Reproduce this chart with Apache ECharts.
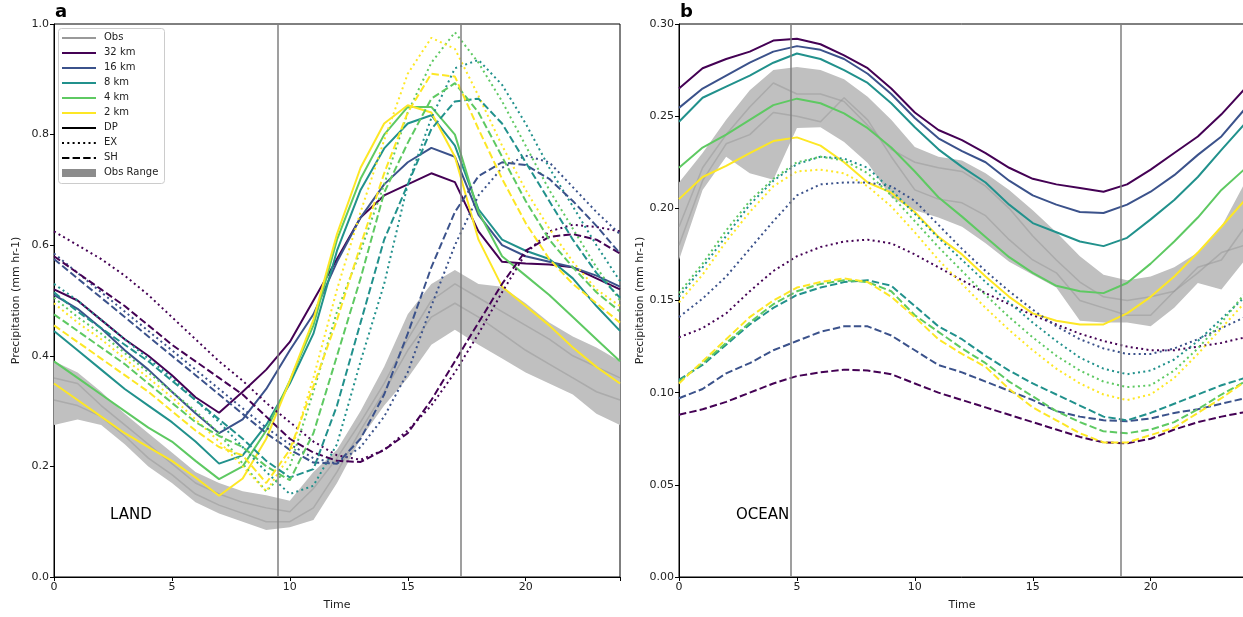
<!DOCTYPE html>
<html>
<head>
<meta charset="utf-8">
<script src="https://cdn.jsdelivr.net/npm/echarts/dist/echarts.min.js"></script>
<style>
  html, body { margin: 0; padding: 0; background: #fff; }
  #chart { width: 1243px; height: 617px; }
</style>
</head>
<body>
<div id="chart"></div>
<script>
// Local time of day (hours)
const hours = [0,1,2,3,4,5,6,7,8,9,10,11,12,13,14,15,16,17,18,19,20,21,22,23,24];
const xTicks = [0, 5, 10, 15, 20];

// ---- LAND: mean diurnal precipitation (mm hr-1) ----
const landDP32 = [.52,.50,.465,.43,.40,.365,.325,.297,.335,.375,.425,.50,.575,.65,.69,.71,.73,.714,.625,.57,.567,.565,.56,.54,.52];
const landDP16 = [.51,.485,.45,.41,.375,.335,.296,.26,.285,.34,.41,.475,.57,.65,.71,.75,.776,.76,.655,.60,.58,.57,.56,.545,.525];
const landDP8  = [.445,.41,.375,.34,.31,.28,.245,.205,.22,.275,.35,.44,.59,.70,.775,.82,.835,.78,.665,.61,.59,.575,.54,.49,.445];
const landDP4  = [.39,.36,.33,.30,.27,.245,.21,.177,.20,.265,.355,.455,.61,.72,.80,.85,.85,.80,.66,.58,.545,.51,.47,.43,.39];
const landDP2  = [.35,.32,.29,.26,.235,.21,.18,.147,.178,.25,.355,.465,.62,.74,.82,.853,.84,.76,.61,.525,.49,.455,.415,.38,.35];

const landEX32 = [.625,.60,.575,.545,.51,.47,.43,.39,.355,.315,.28,.245,.22,.212,.23,.265,.31,.37,.44,.515,.585,.625,.637,.633,.625];
const landEX16 = [.585,.55,.515,.48,.445,.41,.375,.34,.305,.27,.24,.215,.205,.235,.29,.37,.49,.60,.69,.74,.762,.75,.705,.66,.62];
const landEX8  = [.53,.50,.465,.43,.395,.36,.32,.28,.235,.19,.15,.165,.24,.39,.53,.71,.83,.92,.935,.89,.82,.74,.67,.60,.535];
const landEX4  = [.505,.47,.44,.405,.37,.335,.30,.26,.205,.155,.20,.335,.48,.59,.71,.84,.93,.985,.93,.86,.78,.70,.63,.56,.50];
const landEX2  = [.495,.46,.43,.395,.36,.325,.285,.245,.20,.155,.22,.36,.52,.66,.79,.91,.975,.955,.87,.78,.70,.63,.57,.52,.49];

const landSH32 = [.58,.55,.52,.49,.455,.42,.39,.36,.33,.29,.25,.225,.21,.208,.23,.26,.32,.39,.46,.53,.59,.615,.62,.61,.585];
const landSH16 = [.575,.54,.505,.47,.435,.40,.365,.33,.295,.26,.23,.207,.205,.25,.33,.44,.56,.66,.725,.75,.745,.72,.68,.635,.585];
const landSH8  = [.515,.48,.45,.42,.39,.355,.32,.285,.25,.21,.18,.195,.31,.46,.61,.71,.81,.86,.865,.82,.75,.68,.61,.55,.505];
const landSH4  = [.475,.445,.415,.385,.35,.315,.28,.255,.235,.20,.175,.26,.40,.54,.695,.785,.865,.893,.84,.76,.68,.61,.56,.515,.48];
const landSH2  = [.455,.425,.395,.365,.335,.30,.265,.235,.22,.17,.23,.345,.465,.60,.73,.84,.91,.905,.81,.72,.64,.575,.53,.495,.46];

const landObsLow  = [.275,.285,.275,.24,.20,.17,.135,.115,.10,.085,.09,.103,.17,.25,.31,.36,.42,.447,.42,.395,.37,.35,.33,.295,.275];
const landObsHigh = [.39,.37,.335,.295,.26,.225,.19,.17,.155,.148,.138,.19,.23,.30,.38,.475,.53,.555,.53,.525,.495,.46,.435,.415,.39];
const landObsA = [.36,.35,.31,.275,.24,.205,.17,.15,.135,.125,.118,.16,.215,.28,.35,.43,.50,.53,.505,.48,.455,.43,.40,.38,.36];
const landObsB = [.32,.31,.29,.255,.215,.185,.15,.13,.115,.10,.10,.125,.19,.265,.335,.41,.47,.495,.47,.44,.41,.385,.36,.335,.32];
const landDividers = [9.5, 17.25];

// ---- OCEAN ----
const oceanDP32 = [.265,.276,.281,.285,.291,.292,.289,.283,.276,.265,.252,.2425,.237,.23,.222,.216,.213,.211,.209,.213,.221,.230,.239,.251,.265];
const oceanDP16 = [.2545,.265,.272,.279,.285,.288,.286,.281,.273,.262,.249,.238,.231,.225,.215,.207,.202,.198,.1975,.202,.209,.218,.229,.239,.254];
const oceanDP8  = [.247,.26,.266,.272,.279,.284,.281,.275,.268,.257,.244,.232,.2225,.214,.202,.192,.187,.182,.1795,.184,.194,.2045,.217,.2317,.246];
const oceanDP4  = [.222,.233,.240,.248,.256,.2595,.257,.2515,.2435,.233,.22,.206,.1955,.1845,.1735,.165,.158,.155,.154,.1595,.170,.182,.195,.21,.2215];
const oceanDP2  = [.205,.217,.223,.230,.2365,.2385,.234,.225,.214,.2085,.198,.1845,.175,.163,.152,.143,.139,.137,.137,.143,.152,.163,.176,.19,.2045];

const oceanEX32 = [.130,.135,.143,.155,.166,.174,.179,.182,.183,.181,.175,.168,.161,.154,.148,.142,.137,.132,.128,.125,.123,.123,.125,.127,.130];
const oceanEX16 = [.141,.151,.163,.178,.193,.207,.213,.214,.214,.212,.204,.191,.178,.166,.155,.145,.136,.129,.124,.121,.121,.124,.129,.135,.141];
const oceanEX8  = [.152,.168,.185,.202,.215,.224,.228,.227,.222,.210,.197,.184,.172,.160,.149,.138,.128,.119,.113,.110,.112,.118,.128,.140,.152];
const oceanEX4  = [.154,.170,.188,.204,.216,.225,.228,.226,.219,.207,.193,.179,.166,.153,.141,.130,.120,.112,.106,.103,.104,.112,.124,.138,.154];
const oceanEX2  = [.149,.164,.182,.198,.212,.220,.221,.219,.212,.201,.187,.172,.159,.146,.134,.123,.113,.105,.099,.096,.099,.108,.121,.135,.149];

const oceanSH32 = [.088,.091,.095,.100,.105,.109,.111,.1125,.112,.110,.105,.100,.096,.092,.088,.084,.080,.076,.073,.0725,.075,.080,.084,.087,.0895];
const oceanSH16 = [.097,.102,.1105,.116,.123,.128,.133,.136,.136,.131,.123,.115,.111,.106,.101,.096,.090,.087,.085,.0845,.086,.089,.091,.094,.097];
const oceanSH8  = [.107,.115,.126,.137,.146,.153,.157,.160,.161,.158,.147,.136,.129,.120,.112,.105,.099,.093,.087,.085,.089,.094,.099,.104,.108];
const oceanSH4  = [.106,.116,.127,.138,.148,.155,.159,.161,.160,.155,.142,.133,.124,.116,.106,.098,.090,.084,.079,.078,.080,.084,.091,.099,.106];
const oceanSH2  = [.105,.117,.129,.141,.150,.157,.160,.162,.160,.152,.141,.129,.121,.114,.102,.092,.085,.078,.073,.073,.077,.081,.089,.097,.106];

const oceanObsLow  = [.172,.21,.228,.219,.2155,.2436,.244,.236,.2246,.206,.199,.195,.19,.181,.171,.164,.157,.139,.138,.138,.136,.146,.1595,.156,.172];
const oceanObsHigh = [.214,.23,.248,.264,.275,.2767,.275,.27,.2605,.248,.2333,.228,.226,.219,.21,.199,.187,.174,.164,.161,.163,.168,.176,.19,.214];
const oceanObsA = [.19,.222,.24,.255,.268,.262,.262,.258,.245,.232,.225,.222,.22,.212,.2,.185,.172,.16,.152,.15,.152,.155,.168,.172,.19];
const oceanObsB = [.18,.215,.235,.24,.252,.25,.247,.26,.248,.228,.21,.205,.203,.196,.183,.172,.165,.15,.146,.142,.142,.155,.165,.176,.18];
const oceanDividers = [4.75, 18.75];

// Legend entries
const resolutions = ['32 km', '16 km', '8 km', '4 km', '2 km'];
const resColors = ['#440154', '#3b528b', '#21918c', '#5ec962', '#fde725'];
const styleNames = ['DP', 'EX', 'SH'];

const FONT = 'DejaVu Sans';
const DOTTED = [2, 3.3];
const DASHED = [7.4, 3.2];
const lineTypes = ['solid', DOTTED, DASHED];

const toPairs = vals => hours.map((h, i) => [h, vals[i]]);

function modelLine(name, vals, color, type, gi) {
  return {
    type: 'line', name: name, xAxisIndex: gi, yAxisIndex: gi,
    data: toPairs(vals), symbol: 'none', showSymbol: false, smooth: false,
    lineStyle: { color: color, width: 2, type: type, cap: 'butt' },
    silent: true, z: 4
  };
}

function obsLine(vals, gi, dividers) {
  const s = {
    type: 'line', xAxisIndex: gi, yAxisIndex: gi,
    data: toPairs(vals), symbol: 'none', showSymbol: false,
    lineStyle: { color: 'rgba(150,150,150,0.5)', width: 1.5 },
    silent: true, z: 3
  };
  if (dividers) {
    s.markLine = {
      silent: true, symbol: 'none', label: { show: false },
      lineStyle: { color: '#7f7f7f', width: 1.5, type: 'solid' },
      data: dividers.map(v => ({ xAxis: v })),
      z: 6
    };
  }
  return s;
}

function obsBand(low, high, gi) {
  return {
    type: 'custom', xAxisIndex: gi, yAxisIndex: gi, silent: true, z: 2,
    data: hours.map((h, i) => [h, low[i], high[i]]),
    encode: { x: 0, y: [1, 2] },
    renderItem: function (params, api) {
      if (params.dataIndex !== 0) return null;
      const pts = [];
      for (let i = 0; i < hours.length; i++) pts.push(api.coord([hours[i], high[i]]));
      for (let i = hours.length - 1; i >= 0; i--) pts.push(api.coord([hours[i], low[i]]));
      return { type: 'polygon', shape: { points: pts }, style: { fill: '#c0c0c0', stroke: null } };
    }
  };
}

const landSets = [
  [landDP32, landDP16, landDP8, landDP4, landDP2],
  [landEX32, landEX16, landEX8, landEX4, landEX2],
  [landSH32, landSH16, landSH8, landSH4, landSH2]
];
const oceanSets = [
  [oceanDP32, oceanDP16, oceanDP8, oceanDP4, oceanDP2],
  [oceanEX32, oceanEX16, oceanEX8, oceanEX4, oceanEX2],
  [oceanSH32, oceanSH16, oceanSH8, oceanSH4, oceanSH2]
];

const series = [];
series.push(obsBand(landObsLow, landObsHigh, 0));
series.push(obsLine(landObsA, 0, landDividers));
series.push(obsLine(landObsB, 0, null));
series.push(obsBand(oceanObsLow, oceanObsHigh, 1));
series.push(obsLine(oceanObsA, 1, oceanDividers));
series.push(obsLine(oceanObsB, 1, null));

[landSets, oceanSets].forEach((sets, gi) => {
  sets.forEach((set, si) => {
    set.forEach((vals, ri) => {
      series.push(modelLine(resolutions[ri] + ' ' + styleNames[si], vals, resColors[ri], lineTypes[si], gi));
    });
  });
});

function xAxisFor(gi) {
  return {
    type: 'value', gridIndex: gi, min: 0, max: 24, interval: 5,
    name: 'Time', nameLocation: 'middle', nameGap: 23,
    nameTextStyle: { fontFamily: FONT, fontSize: 11, color: '#222' },
    axisLine: { show: true, onZero: false, lineStyle: { color: '#000', width: 1 } },
    axisTick: { show: true, length: 4, lineStyle: { color: '#000' } },
    axisLabel: {
      fontFamily: FONT, fontSize: 11, color: '#222', margin: 5,
      formatter: v => (xTicks.indexOf(v) >= 0 ? String(v) : '')
    },
    splitLine: { show: false }
  };
}

function yAxisFor(gi, max, interval, digits) {
  return {
    type: 'value', gridIndex: gi, min: 0, max: max, interval: interval,
    name: 'Precipitation (mm hr-1)', nameLocation: 'middle', nameGap: 32, nameRotate: 90,
    nameTextStyle: { fontFamily: FONT, fontSize: 11, color: '#222' },
    axisLine: { show: true, onZero: false, lineStyle: { color: '#000', width: 1 } },
    axisTick: { show: true, length: 4, lineStyle: { color: '#000' } },
    axisLabel: {
      fontFamily: FONT, fontSize: 11, color: '#222', margin: 5,
      formatter: v => v.toFixed(digits)
    },
    splitLine: { show: false }
  };
}

// Legend drawn in the land panel
const legendItems = [];
const legendX0 = 62, legendX1 = 96, legendTextX = 104, legendY0 = 38, legendStep = 15;
const legendRows = [
  { label: 'Obs', kind: 'line', color: '#999999', type: 'solid' }
].concat(resolutions.map((r, i) => ({ label: r, kind: 'line', color: resColors[i], type: 'solid' })))
 .concat(styleNames.map((s, i) => ({ label: s, kind: 'line', color: '#000', type: lineTypes[i] })))
 .concat([{ label: 'Obs Range', kind: 'patch', color: '#8c8c8c' }]);

legendItems.push({
  type: 'rect', left: 58, top: 28, z: 20,
  shape: { width: 106, height: 155, r: 3 },
  style: { fill: 'rgba(255,255,255,0.85)', stroke: '#cccccc', lineWidth: 1 }
});
legendRows.forEach((row, i) => {
  const y = legendY0 + i * legendStep;
  if (row.kind === 'line') {
    legendItems.push({
      type: 'line', z: 21,
      shape: { x1: legendX0, y1: y, x2: legendX1, y2: y },
      style: { stroke: row.color, lineWidth: 2, lineDash: row.type === 'solid' ? null : row.type }
    });
  } else {
    legendItems.push({
      type: 'rect', z: 21,
      shape: { x: legendX0, y: y - 4, width: legendX1 - legendX0, height: 8 },
      style: { fill: row.color }
    });
  }
  legendItems.push({
    type: 'text', z: 21, left: legendTextX, top: y - 6,
    style: { text: row.label, fontFamily: FONT, fontSize: 10, fill: '#222' }
  });
});

const chart = echarts.init(document.getElementById('chart'), null, { renderer: 'canvas' });
chart.setOption({
  animation: false,
  backgroundColor: '#fff',
  grid: [
    { left: 54, top: 24, width: 566, height: 553, show: true, borderColor: '#000', borderWidth: 1,
      backgroundColor: 'transparent', containLabel: false, outerBoundsMode: 'none' },
    { left: 679, top: 24, width: 566, height: 553, show: true, borderColor: '#000', borderWidth: 1,
      backgroundColor: 'transparent', containLabel: false, outerBoundsMode: 'none' }
  ],
  xAxis: [xAxisFor(0), xAxisFor(1)],
  yAxis: [yAxisFor(0, 1.0, 0.2, 1), yAxisFor(1, 0.30, 0.05, 2)],
  series: series,
  graphic: [
    { type: 'text', left: 55, top: 3, style: { text: 'a', fontFamily: FONT, fontSize: 18, fontWeight: 'bold', fill: '#000' } },
    { type: 'text', left: 680, top: 3, style: { text: 'b', fontFamily: FONT, fontSize: 18, fontWeight: 'bold', fill: '#000' } },
    { type: 'text', left: 110, top: 508, z: 10, style: { text: 'LAND', fontFamily: FONT, fontSize: 15, fill: '#000' } },
    { type: 'text', left: 736, top: 508, z: 10, style: { text: 'OCEAN', fontFamily: FONT, fontSize: 15, fill: '#000' } }
  ].concat(legendItems)
});
</script>
</body>
</html>
